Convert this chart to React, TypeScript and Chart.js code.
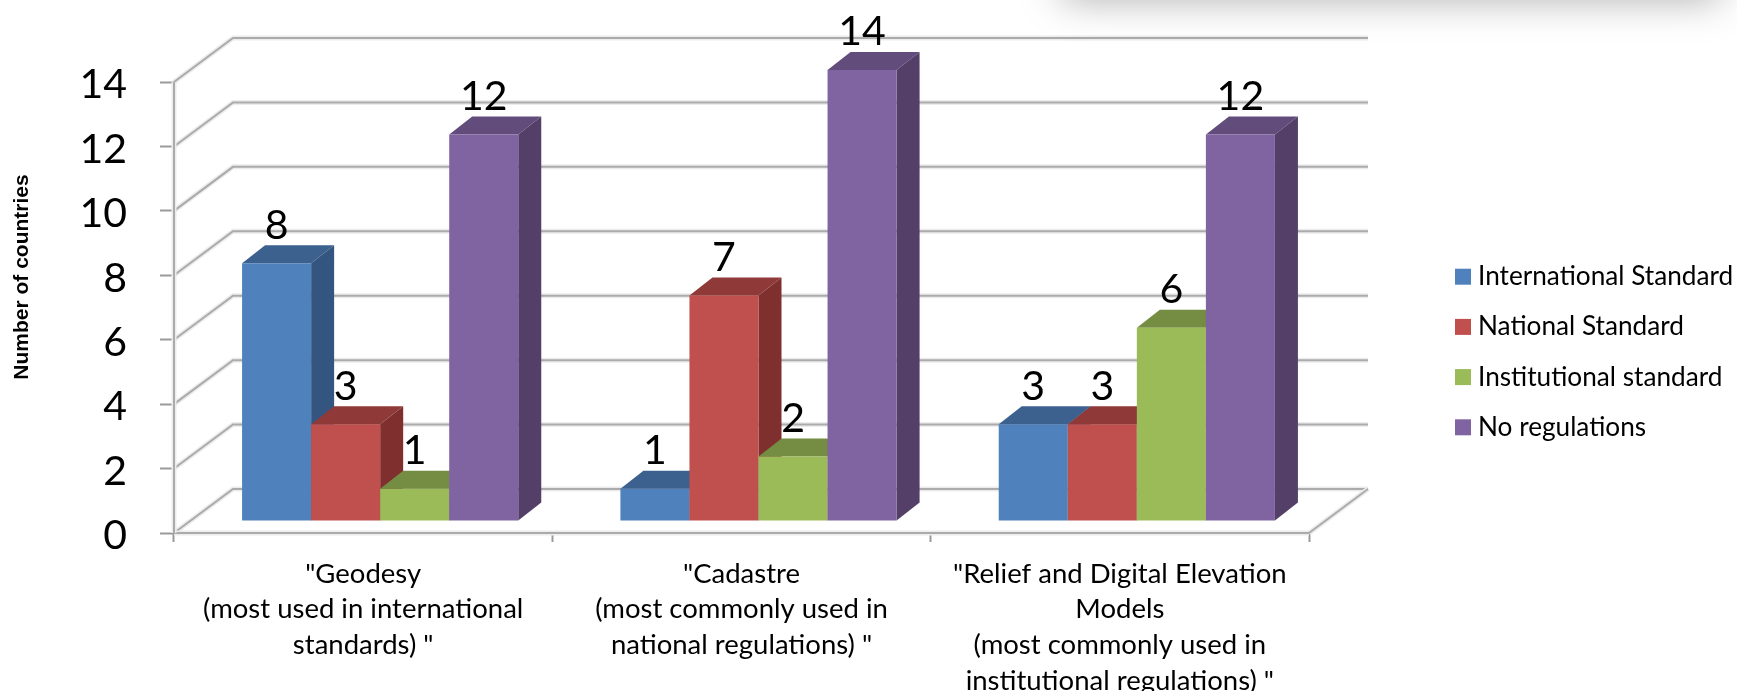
import React, { useEffect, useRef } from "react";
import { Chart, registerables } from "chart.js";

Chart.register(...registerables);

const categories: string[][] = [
  ['"Geodesy', "(most used in international", 'standards) "'],
  ['"Cadastre', "(most commonly used in", 'national regulations) "'],
  ['"Relief and Digital Elevation', "Models", "(most commonly used in", 'institutional regulations) "'],
];
const internationalStandard = [8, 1, 3];
const nationalStandard = [3, 7, 3];
const institutionalStandard = [1, 2, 6];
const noRegulations = [12, 14, 12];
const seriesNames = ["International Standard", "National Standard", "Institutional standard", "No regulations"];
const frontColors = ["#4f81bd", "#c0504d", "#9bbb59", "#8064a2"];
const topColors = ["#3d618e", "#8f3a38", "#748d42", "#624c7c"];
const sideColors = ["#33557f", "#7e2f2e", "#66793a", "#533f67"];
const yTitle = "Number of countries";

const LABEL_FONT = "Lato, Carlito, sans-serif";
const wall = { dx: 59, dy: 44 };
const barShift = { x: 17, y: -12 };
const depth = { dx: 23, dy: 18 };

function strokeGrid(ctx: CanvasRenderingContext2D, pts: number[][]) {
  const path = () => {
    ctx.beginPath();
    pts.forEach((p, i) => (i ? ctx.lineTo(p[0], p[1]) : ctx.moveTo(p[0], p[1])));
  };
  ctx.lineJoin = "miter";
  ctx.strokeStyle = "#ececec";
  ctx.lineWidth = 5;
  path();
  ctx.stroke();
  ctx.strokeStyle = "#ababab";
  ctx.lineWidth = 2;
  path();
  ctx.stroke();
}

const bar3d = {
  id: "bar3d",
  beforeDatasetsDraw(chart: any) {
    const { ctx, chartArea: a, scales } = chart;
    const y = scales.y;
    ctx.save();
    // back wall and side wall lines
    y.ticks.forEach((t: any) => {
      const py = y.getPixelForValue(t.value);
      strokeGrid(ctx, [
        [a.left, py],
        [a.left + wall.dx, py - wall.dy],
        [a.right + wall.dx, py - wall.dy],
      ]);
    });
    strokeGrid(ctx, [
      [a.right, a.bottom],
      [a.right + wall.dx, a.bottom - wall.dy],
    ]);
    strokeGrid(ctx, [
      [a.left, a.bottom],
      [a.right, a.bottom],
    ]);
    strokeGrid(ctx, [
      [a.left, a.top],
      [a.left, a.bottom],
    ]);
    ctx.translate(barShift.x, barShift.y);
    chart.data.datasets.forEach((_: any, di: number) => {
      const meta = chart.getDatasetMeta(di);
      meta.data.forEach((bar: any) => {
        const { x, y: top, base, width } = bar.getProps(["x", "y", "base", "width"]);
        const l = x - width / 2;
        const r = x + width / 2;
        ctx.fillStyle = topColors[di];
        ctx.beginPath();
        ctx.moveTo(l, top);
        ctx.lineTo(r, top);
        ctx.lineTo(r + depth.dx, top - depth.dy);
        ctx.lineTo(l + depth.dx, top - depth.dy);
        ctx.closePath();
        ctx.fill();
        ctx.fillStyle = sideColors[di];
        ctx.beginPath();
        ctx.moveTo(r, top);
        ctx.lineTo(r + depth.dx, top - depth.dy);
        ctx.lineTo(r + depth.dx, base - depth.dy);
        ctx.lineTo(r, base);
        ctx.closePath();
        ctx.fill();
        bar.draw(ctx);
      });
    });
    ctx.restore();
    return false;
  },
  afterDraw(chart: any) {
    const { ctx } = chart;
    ctx.save();
    // value labels
    ctx.fillStyle = "#000";
    ctx.font = `41px ${LABEL_FONT}`;
    ctx.textAlign = "center";
    ctx.textBaseline = "middle";
    chart.data.datasets.forEach((ds: any, di: number) => {
      chart.getDatasetMeta(di).data.forEach((bar: any, i: number) => {
        ctx.fillText(String(ds.data[i]), bar.x + barShift.x, bar.y + barShift.y - 38);
      });
    });
    // legend
    ctx.font = `26.2px ${LABEL_FONT}`;
    ctx.textAlign = "left";
    chart.data.datasets.forEach((ds: any, di: number) => {
      const cy = 276.7 + di * 50.2;
      ctx.fillStyle = ds.backgroundColor;
      ctx.fillRect(1455, cy - 8, 16, 16);
      ctx.fillStyle = "#000";
      ctx.fillText(ds.label, 1478, cy);
    });
    // y axis title
    ctx.translate(22, 277);
    ctx.rotate(-Math.PI / 2);
    ctx.textAlign = "center";
    ctx.font = 'bold 21px "Liberation Sans", Arial, sans-serif';
    ctx.fillText(yTitle, 0, 0);
    ctx.restore();
  },
};

export default function App() {
  const ref = useRef<HTMLCanvasElement>(null);
  useEffect(() => {
    const seriesValues = [internationalStandard, nationalStandard, institutionalStandard, noRegulations];
    const chart = new Chart(ref.current as HTMLCanvasElement, {
      type: "bar",
      data: {
        labels: categories as any,
        datasets: seriesNames.map((label, i) => ({
          label,
          data: seriesValues[i],
          backgroundColor: frontColors[i],
          borderWidth: 0,
          barPercentage: 1,
          categoryPercentage: 0.73,
        })),
      },
      options: {
        animation: false,
        responsive: false,
        layout: { padding: { left: 0, top: 82, right: 428, bottom: 0 } },
        plugins: { legend: { display: false }, title: { display: false }, tooltip: { enabled: false } },
        scales: {
          x: {
            afterFit: (s: any) => { s.height = 158; },
            grid: { drawOnChartArea: false, drawTicks: true, tickLength: 9, tickColor: "#9a9a9a", tickWidth: 2, offset: true },
            border: { display: false },
            ticks: {
              autoSkip: false,
              maxRotation: 0,
              minRotation: 0,
              padding: 14,
              color: "#000",
              font: { family: LABEL_FONT, size: 27.5, lineHeight: "35.7px" as any },
            },
          },
          y: {
            min: 0,
            max: 14,
            afterFit: (s: any) => { s.width = 174; },
            grid: { drawOnChartArea: false, drawTicks: true, tickLength: 14, tickColor: "#9a9a9a", tickWidth: 2 },
            border: { display: false },
            ticks: {
              stepSize: 2,
              padding: 33,
              labelOffset: 3,
              color: "#000",
              font: { family: LABEL_FONT, size: 41 },
            },
          },
        },
      } as any,
      plugins: [bar3d as any],
    });
    return () => chart.destroy();
  }, []);
  return (
    <div style={{ position: "absolute", left: 0, top: 0, width: 1737, height: 691, overflow: "hidden", background: "#fff" }}>
      <canvas ref={ref} width={1737} height={691} style={{ display: "block" }} />
      <div
        style={{
          position: "absolute",
          left: 1062,
          top: -40,
          width: 658,
          height: 38,
          background: "#d0d0d0",
          boxShadow: "0 0 40px rgba(0,0,0,0.35)",
        }}
      />
    </div>
  );
}
